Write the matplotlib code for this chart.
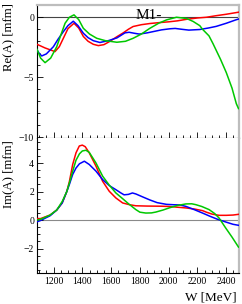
import matplotlib
matplotlib.use("Agg")
import matplotlib.pyplot as plt
from matplotlib.ticker import MultipleLocator

plt.rcParams['font.family'] = ['Liberation Serif', 'DejaVu Serif']

# ---------------- data (W in MeV, amplitudes in mfm) ----------------
re_red_w = [1085, 1140, 1210, 1240, 1268, 1300, 1342, 1375, 1407, 1440, 1476, 1511, 1550, 1592,
            1640, 1684, 1720, 1753, 1810, 1870, 1940, 2000, 2060, 2124, 2200, 2262, 2330, 2400, 2485]
re_red = [-2.25, -2.55, -2.86, -2.45, -1.75, -0.95, -0.5, -0.9, -1.6, -2.0, -2.25, -2.36, -2.28, -2.0,
          -1.62, -1.3, -1.0, -0.77, -0.62, -0.52, -0.44, -0.38, -0.3, -0.17, -0.06, 0.0, 0.13, 0.25, 0.42]

re_blue_w = [1085, 1100, 1118, 1150, 1199, 1230, 1268, 1300, 1337, 1370, 1407, 1440, 1476, 1522, 1580,
             1640, 1696, 1725, 1760, 1795, 1850, 1890, 1950, 2008, 2045, 2090, 2140, 2216, 2278, 2330,
             2400, 2466, 2485]
re_blue = [-2.72, -3.0, -3.22, -3.05, -2.45, -1.85, -1.2, -0.7, -0.33, -0.7, -1.33, -1.7, -1.95, -2.1, -1.95,
           -1.72, -1.3, -1.25, -1.33, -1.4, -1.3, -1.2, -1.05, -0.96, -0.93, -1.0, -1.07, -1.02, -0.89, -0.76,
           -0.5, -0.22, -0.15]

re_green_w = [1085, 1110, 1141, 1180, 1222, 1250, 1280, 1310, 1342, 1375, 1407, 1450, 1500, 1560, 1640,
              1700, 1753, 1810, 1869, 1930, 1985, 2054, 2124, 2170, 2216, 2235, 2280, 2308, 2330, 2360,
              2400, 2440, 2470, 2485]
re_green = [-2.67, -3.4, -3.78, -3.4, -2.45, -1.5, -0.5, 0.0, 0.2, -0.2, -0.92, -1.4, -1.75, -1.95, -2.08,
            -2.0, -1.75, -1.4, -0.92, -0.5, -0.22, 0.0, -0.1, -0.35, -0.7, -1.0, -1.55, -2.2, -2.75, -3.5,
            -4.6, -5.9, -7.2, -7.6]

im_red_w = [1085, 1110, 1176, 1222, 1260, 1292, 1310, 1333, 1356, 1379, 1400, 1420, 1448, 1495, 1541,
            1587, 1633, 1680, 1726, 1772, 1850, 1950, 2003, 2060, 2119, 2180, 2235, 2262, 2300, 2350,
            2400, 2447, 2485]
im_red = [0.1, 0.1, 0.35, 0.7, 1.2, 2.0, 2.7, 3.9, 4.72, 5.2, 5.26, 5.15, 4.72, 3.78, 2.72,
          2.02, 1.55, 1.2, 1.08, 1.0, 0.98, 0.97, 0.95, 0.9, 0.85, 0.77, 0.66, 0.55, 0.42, 0.33,
          0.33, 0.35, 0.4]

im_green_w = [1085, 1110, 1176, 1222, 1260, 1292, 1310, 1333, 1356, 1380, 1400, 1425, 1448, 1472, 1495,
              1541, 1587, 1633, 1680, 1720, 1772, 1800, 1841, 1880, 1911, 1960, 2003, 2060, 2119, 2160,
              2188, 2230, 2281, 2320, 2350, 2396, 2440, 2485]
im_green = [0.0, 0.05, 0.35, 0.7, 1.3, 2.0, 2.6, 3.43, 4.2, 4.65, 4.85, 4.9, 4.75, 4.37, 4.0,
            3.08, 2.45, 1.9, 1.5, 1.15, 0.73, 0.55, 0.49, 0.5, 0.56, 0.7, 0.85, 1.02, 1.13, 1.14,
            1.08, 0.95, 0.73, 0.45, 0.14, -0.56, -1.2, -1.9]

im_blue_w = [1085, 1106, 1176, 1222, 1260, 1292, 1310, 1333, 1356, 1380, 1414, 1448, 1495, 1541, 1587,
             1633, 1668, 1690, 1720, 1748, 1772, 1820, 1869, 1920, 1985, 2040, 2077, 2119, 2180, 2235,
             2290, 2340, 2400, 2447, 2485]
im_blue = [-0.12, -0.05, 0.3, 0.7, 1.2, 2.0, 2.5, 3.2, 3.65, 3.95, 4.13, 3.9, 3.43, 2.84, 2.42,
           2.13, 1.9, 1.77, 1.8, 1.9, 1.83, 1.62, 1.41, 1.22, 1.1, 1.07, 1.06, 0.96, 0.72, 0.49,
           0.25, 0.05, -0.15, -0.3, -0.37]

x_ticks = [1200, 1400, 1600, 1800, 2000, 2200, 2400]
re_ticks = [-10, -5, 0]
im_ticks = [-2, 0, 2, 4]

RED, GREEN, BLUE = '#ff0000', '#00c800', '#0000ff'
LW = 1.1

fig = plt.figure(figsize=(2.42, 3.04), dpi=100)
W, H = 242.0, 304.0
x0, x1 = 37 / W, 238.5 / W
ax1 = fig.add_axes([x0, (H - 138) / H, x1 - x0, (138 - 5) / H])
ax2 = fig.add_axes([x0, (H - 273) / H, x1 - x0, (273 - 138) / H])

for ax in (ax1, ax2):
    ax.set_xlim(1085, 2485)
    ax.xaxis.set_major_locator(MultipleLocator(200))
    ax.xaxis.set_minor_locator(MultipleLocator(50))
    ax.tick_params(which='both', direction='in', top=False, right=False, colors='black',
                   labelsize=7)
    ax.tick_params(which='major', length=4.5, width=0.6)
    ax.tick_params(which='minor', length=2.2, width=0.6)
    ax.tick_params(axis='y', pad=2)
    ax.tick_params(axis='x', pad=3)
    for s in ('left', 'bottom'):
        ax.spines[s].set_color('black')
        ax.spines[s].set_linewidth(0.8)
    for s in ('top', 'right'):
        ax.spines[s].set_color('#bdbdbd')
        ax.spines[s].set_linewidth(1.6)

ax2.spines['top'].set_visible(False)
ax1.spines['bottom'].set_zorder(5)

# top panel: Re
ax1.axhline(0, color='#444444', lw=0.8, zorder=1)
ax1.plot(re_red_w, re_red, color=RED, lw=LW, zorder=3)
ax1.plot(re_blue_w, re_blue, color=BLUE, lw=LW, zorder=3)
ax1.plot(re_green_w, re_green, color=GREEN, lw=LW, zorder=3)
ax1.set_ylim(-10.05, 1.02)
ax1.set_yticks(re_ticks)
ax1.yaxis.set_minor_locator(MultipleLocator(1))
ax1.set_xticks(x_ticks)
ax1.tick_params(axis='x', labelbottom=False)

# bottom panel: Im
ax2.axhline(0, color='#8a8a8a', lw=0.8, zorder=1)
ax2.plot(im_red_w, im_red, color=RED, lw=LW, zorder=3)
ax2.plot(im_blue_w, im_blue, color=BLUE, lw=LW, zorder=3)
ax2.plot(im_green_w, im_green, color=GREEN, lw=LW, zorder=3)
ax2.set_ylim(-3.72, 5.76)
ax2.set_yticks(im_ticks)
ax2.yaxis.set_minor_locator(MultipleLocator(0.5))
ax2.set_xticks(x_ticks)

# texts
fig.text(8.5 / W, (H - 3) / H, 'Re(A) [mfm]', rotation=90, ha='center', va='top', fontsize=9.2)
fig.text(8.5 / W, (H - 140) / H, 'Im(A) [mfm]', rotation=90, ha='center', va='top', fontsize=9.2)
fig.text(237 / W, (H - 301) / H, 'W [MeV]', ha='right', va='baseline', fontsize=9.5)
fig.text(136 / W, (H - 19) / H, 'M1-', ha='left', va='baseline', fontsize=11)

fig.savefig('out.png', dpi=100)
